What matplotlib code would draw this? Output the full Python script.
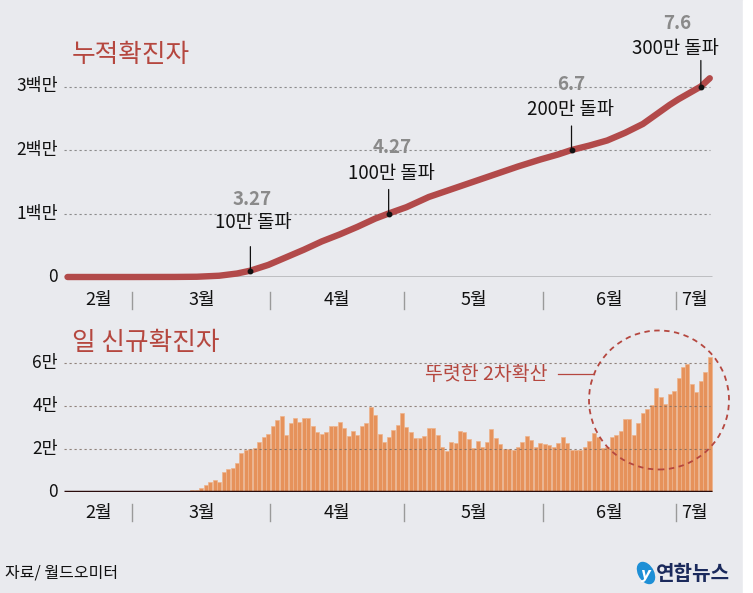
import matplotlib
matplotlib.use("Agg")
import matplotlib.pyplot as plt
import matplotlib.patches as patches
import numpy as np
import pandas as pd

plt.rcParams['font.family'] = ['Noto Sans CJK KR', 'DejaVu Sans']

# daily new cases (thousands), 2020-02-15 .. 2020-07-08
start_date = '2020-02-15'
daily_new = [
    0, 0, 0, 0, 0, 0, 0, 0.01, 0, 0.01, 0, 0.01, 0.02, 0, 0.01,
    0.02, 0.03, 0.02, 0.04, 0.07, 0.08, 0.1, 0.12, 0.15, 0.2, 0.29,
    0.4, 0.6, 1.0, 1.0, 1.9, 3.3, 4.7, 5.6, 4.7, 9.4, 10.8, 11.3, 13.6,
    17.9, 19.3, 19.9, 20.5, 23.2, 25.4, 27.1, 30.6, 33.3, 35.0, 26.2,
    31.8, 34.4, 32.5, 34.4, 34.4, 30.7, 27.9, 27.1, 27.6, 30.7, 30.4,
    32.5, 29.5, 26.0, 28.2, 26.5, 30.4, 32.2, 39.4, 35.8, 26.8, 23.4,
    25.7, 28.7, 31.1, 36.5, 30.1, 27.6, 24.8, 25.1, 25.9, 29.8, 29.5,
    26.5, 20.9, 19.0, 23.4, 22.6, 28.2, 27.9, 24.5, 20.5, 23.7, 20.9,
    23.1, 29.2, 24.9, 22.1, 20.1, 20.1, 19.3, 20.9, 23.4, 25.9, 24.0,
    20.9, 22.6, 22.2, 22.0, 20.7, 22.9, 25.4, 22.7, 19.5, 19.5, 19.5,
    21.0, 23.7, 27.5, 25.7, 20.4, 21.0, 25.7, 26.5, 28.2, 33.6, 33.6,
    26.2, 32.0, 36.5, 38.6, 40.2, 48.0, 44.1, 40.9, 45.2, 46.6, 52.9,
    57.9, 59.5, 50.2, 46.3, 51.3, 55.7, 62.6,
]

# cumulative cases (millions)
cum_dates = ['2020-02-15', '2020-03-01', '2020-03-10', '2020-03-15', '2020-03-20',
             '2020-03-24', '2020-03-27', '2020-03-31', '2020-04-04', '2020-04-08',
             '2020-04-12', '2020-04-16', '2020-04-20', '2020-04-24', '2020-04-27',
             '2020-05-01', '2020-05-06', '2020-05-11', '2020-05-16', '2020-05-21',
             '2020-05-26', '2020-05-31', '2020-06-04', '2020-06-07', '2020-06-11',
             '2020-06-15', '2020-06-19', '2020-06-23', '2020-06-25', '2020-06-27',
             '2020-06-29', '2020-07-01', '2020-07-04', '2020-07-06', '2020-07-08']
cum_values = [0, 0, 0.001, 0.004, 0.02, 0.055, 0.1, 0.19, 0.31, 0.43,
              0.56, 0.67, 0.79, 0.92, 1.0, 1.1, 1.26, 1.38, 1.50, 1.62,
              1.74, 1.85, 1.93, 2.0, 2.07, 2.15, 2.27, 2.41, 2.51, 2.61,
              2.71, 2.80, 2.92, 3.0, 3.13]

milestones = [('2020-03-27', 0.1, '3.27', '10만 돌파'),
              ('2020-04-27', 1.0, '4.27', '100만 돌파'),
              ('2020-06-07', 2.0, '6.7', '200만 돌파'),
              ('2020-07-06', 3.0, '7.6', '300만 돌파')]
# label offsets in pixels: (leader length, text dx, text dy, date dx, date dy)
ms_offsets = [(24, 3, 48, 2, 71), (24, 3, 40, 4, 66),
              (24, -1, 40, 0, 65), (26, -25, 38, -24, 63)]

month_labels = ['2월', '3월', '4월', '5월', '6월', '7월']
month_starts = ['2020-03-01', '2020-04-01', '2020-05-01', '2020-06-01', '2020-07-01']

top_ticks = [0, 1, 2, 3]
top_ticklabels = ['0', '1백만', '2백만', '3백만']
bot_ticks = [0, 20, 40, 60]
bot_ticklabels = ['0', '2만', '4만', '6만']

BG = '#e9eaee'
RED = '#b5473f'
LINE = '#b24a4a'
BAR = '#e6925b'
GRID = '#8c8c8c'

W, H = 753, 593
t0 = pd.Timestamp(start_date)


def day(s):
    return (pd.Timestamp(s) - t0).days


def fx(px):
    return px / W


def fy(py):
    return 1 - py / H


def xdata(px):
    return (px - 65.3) / 4.46 - 0.5


fig = plt.figure(figsize=(W / 100, H / 100), dpi=100)
fig.patch.set_facecolor(BG)
fig.add_artist(patches.Rectangle((fx(743), 0), fx(10), 1, transform=fig.transFigure,
                                 color='white', zorder=0))

xl = (xdata(60), xdata(720))
n = len(daily_new)
xs = np.arange(n)

# ---------------- top: cumulative -----------------
ax1 = fig.add_axes([fx(60), fy(277), fx(660), (277 - 40) / H])
ax1.set_xlim(*xl)
ax1.set_ylim(0, (277 - 40) / 63.5)
ax1.axis('off')
for t, lab in zip(top_ticks, top_ticklabels):
    if t > 0:
        ax1.hlines(t, xdata(64), xdata(710), colors=GRID, linestyles=(0, (2, 2.5)),
                   linewidth=0.8, zorder=1)
    ax1.text(xdata(58), t, lab, ha='right', va='center', fontsize=12.5, color='#111')
ax1.hlines(0, xdata(64), xdata(712), colors='#111', linewidth=1.0, zorder=2)
cx = [day(d) for d in cum_dates]
ax1.plot(cx, cum_values, color=LINE, linewidth=4.6, solid_capstyle='round',
         solid_joinstyle='round', zorder=3, clip_on=False)
for (d, v, dl, tl), (ll, tdx, tdy, ddx, ddy) in zip(milestones, ms_offsets):
    x = day(d)
    ax1.plot([x], [v], 'o', color='#111', markersize=3.2, zorder=5)
    ax1.annotate('', xy=(x, v), xytext=(0, ll), textcoords='offset pixels',
                 arrowprops=dict(arrowstyle='-', color='#111', lw=0.9, shrinkA=0, shrinkB=0))
    ax1.annotate(tl, xy=(x, v), xytext=(tdx, tdy), textcoords='offset pixels',
                 ha='center', va='center', fontsize=13.5, color='#111')
    ax1.annotate(dl, xy=(x, v), xytext=(ddx, ddy), textcoords='offset pixels',
                 ha='center', va='center', fontsize=13.5, color='#8a8a8a', fontweight='bold')

fig.text(fx(72), fy(55), '누적확진자', fontsize=18.5, color=RED, ha='left', va='center')

# ---------------- bottom: daily -----------------
ax2 = fig.add_axes([fx(60), fy(492), fx(660), (492 - 340) / H])
ax2.set_xlim(*xl)
ax2.set_ylim(0, (492 - 340) / 2.158)
ax2.axis('off')
ax2.bar(xs, daily_new, width=0.9, color=BAR, edgecolor='#eeb48c', linewidth=0.5, zorder=2)
for t, lab in zip(bot_ticks, bot_ticklabels):
    if t > 0:
        ax2.hlines(t, xdata(64), xdata(710), colors='#7a6a60', linestyles=(0, (2, 2.5)),
                   linewidth=0.8, zorder=3, alpha=0.8)
    ax2.text(xdata(58), t, lab, ha='right', va='center', fontsize=12.5, color='#111')
ax2.hlines(0, xdata(64), xdata(712), colors='#2a0c0c', linewidth=2.5, zorder=4)

fig.text(fx(72), fy(343), '일 신규확진자', fontsize=18.5, color=RED, ha='left', va='center')
fig.text(fx(486), fy(374), '뚜렷한 2차확산', fontsize=14, color=RED, ha='center', va='center')
fig.add_artist(plt.Line2D([fx(558), fx(594)], [fy(374), fy(374)], color=RED, lw=0.9,
                          transform=fig.transFigure))
fig.add_artist(patches.Ellipse((fx(659), fy(400)), 140 / W, 139 / H, transform=fig.transFigure,
                               fill=False, edgecolor=RED, lw=1.3, linestyle=(0, (3, 2.5)),
                               zorder=6))

# month axis rows
bounds = [xdata(65.3)] + [day(m) - 0.5 for m in month_starts] + [n - 0.5]
for ax, base, ypx in ((ax1, 277, 300), (ax2, 492, 513)):
    for i, lab in enumerate(month_labels):
        cx_ = (bounds[i] + bounds[i + 1]) / 2
        ax.annotate(lab, xy=(cx_, 0), xytext=(0, -(ypx - base)),
                    textcoords='offset pixels', ha='center', va='center',
                    fontsize=13, color='#111', annotation_clip=False)

# short separators between months
for y0, y1 in ((292, 309), (504, 521)):
    for m in month_starts:
        xm = 65.3 + 4.46 * day(m)
        fig.add_artist(plt.Line2D([fx(xm), fx(xm)], [fy(y0), fy(y1)], color='#9a9a9a',
                                  lw=1.0, transform=fig.transFigure))

fig.text(fx(5), fy(573), '자료/ 월드오미터', fontsize=11.5, color='#111', ha='left', va='center')
fig.add_artist(patches.Ellipse((fx(646), fy(573)), 15 / W, 22 / H, angle=20,
                               transform=fig.transFigure, color='#1d8fd6'))
fig.text(fx(646), fy(574), 'y', fontsize=11, color='white', ha='center', va='center',
         fontweight='bold', style='italic', family='DejaVu Sans')
fig.text(fx(656), fy(573), '연합뉴스', fontsize=14.5, color='#1b2a5c', ha='left', va='center',
         fontweight='bold')

fig.savefig('out.png', dpi=100, facecolor=fig.get_facecolor())
